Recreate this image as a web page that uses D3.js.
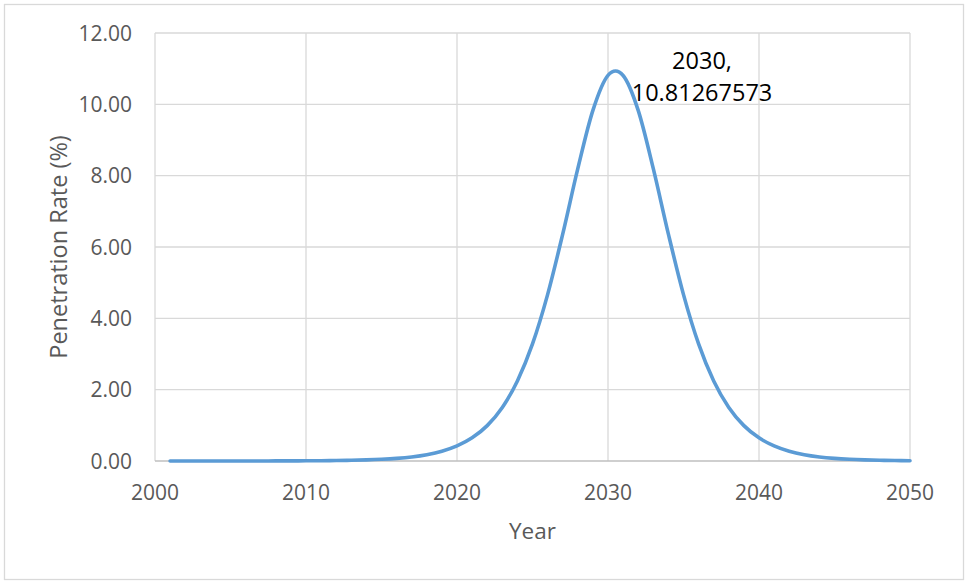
<!DOCTYPE html>
<html>
<head>
<meta charset="utf-8">
<script src="https://cdn.jsdelivr.net/npm/d3@7"></script>
<style>
  html, body { margin: 0; padding: 0; background: #fff; }
  svg { display: block; }
  text { font-family: "Open Sans", "Noto Sans", sans-serif; }
</style>
</head>
<body>
<svg id="chart" width="970" height="584"></svg>
<script>
// ---- data ----
const years = [2001,2002,2003,2004,2005,2006,2007,2008,2009,2010,
               2011,2012,2013,2014,2015,2016,2017,2018,2019,2020,
               2021,2022,2023,2024,2025,2026,2027,2028,2029,2030,
               2031,2032,2033,2034,2035,2036,2037,2038,2039,2040,
               2041,2042,2043,2044,2045,2046,2047,2048,2049,2050];
const penetration = [0.0001,0.00016,0.00024,0.00038,0.00059,0.00091,0.00141,0.0022,0.00341,0.00529,
                     0.00822,0.01276,0.0198,0.0307,0.0477,0.0739,0.1146,0.1774,0.2742,0.4228,
                     0.649,0.992,1.501,2.242,3.282,4.665,6.361,8.196,9.83,10.81267573,
                     10.809,9.83,8.196,6.361,4.665,3.282,2.242,1.501,0.992,0.649,
                     0.4228,0.2742,0.1774,0.1146,0.0739,0.0477,0.0307,0.0198,0.01276,0.00822];
const xTicks = [2000, 2010, 2020, 2030, 2040, 2050];
const yTicks = [0, 2, 4, 6, 8, 10, 12];
const labelYear = 2030;
const labelLines = ["2030,", "10.81267573"];
const xTitle = "Year";
const yTitle = "Penetration Rate (%)";

// ---- layout ----
const svg = d3.select("#chart");
const plot = { left: 155, right: 910, top: 33, bottom: 461 };
const x = d3.scaleLinear().domain([2000, 2050]).range([plot.left, plot.right]);
const y = d3.scaleLinear().domain([0, 12]).range([plot.bottom, plot.top]);

// outer border
svg.append("rect")
  .attr("x", 4.5).attr("y", 4.5).attr("width", 959).attr("height", 575)
  .attr("fill", "#fff").attr("stroke", "#D9D9D9").attr("stroke-width", 1.3);

// gridlines
const grid = svg.append("g");
grid.selectAll("line.h").data(yTicks.filter(d => d !== 0)).enter().append("line")
  .attr("x1", plot.left).attr("x2", plot.right)
  .attr("y1", d => y(d)).attr("y2", d => y(d))
  .attr("stroke", "#D9D9D9").attr("stroke-width", 1.3);
grid.selectAll("line.v").data(xTicks).enter().append("line")
  .attr("x1", d => x(d)).attr("x2", d => x(d))
  .attr("y1", plot.top).attr("y2", plot.bottom)
  .attr("stroke", "#D9D9D9").attr("stroke-width", 1.3);

// x axis line
svg.append("line")
  .attr("x1", plot.left).attr("x2", plot.right)
  .attr("y1", y(0)).attr("y2", y(0))
  .attr("stroke", "#BFBFBF").attr("stroke-width", 1.3);

// tick labels
svg.selectAll("text.xt").data(xTicks).enter().append("text")
  .attr("x", d => x(d)).attr("y", 499.5)
  .attr("text-anchor", "middle")
  .attr("font-size", 21).attr("fill", "#595959")
  .text(d => d);
svg.selectAll("text.yt").data(yTicks).enter().append("text")
  .attr("x", 132).attr("y", d => y(d)).attr("dy", "0.36em")
  .attr("text-anchor", "end")
  .attr("font-size", 21).attr("fill", "#595959")
  .text(d => d3.format(".2f")(d));

// axis titles
svg.append("text")
  .attr("x", (plot.left + plot.right) / 2).attr("y", 538.5)
  .attr("text-anchor", "middle")
  .attr("font-size", 22.5).attr("fill", "#595959")
  .text(xTitle);
svg.append("text")
  .attr("transform", `translate(66.5,${(plot.top + plot.bottom) / 2}) rotate(-90)`)
  .attr("text-anchor", "middle")
  .attr("font-size", 23.5).attr("fill", "#595959")
  .text(yTitle);

// line
const data = years.map((yr, i) => ({ yr, v: penetration[i] }));
const line = d3.line()
  .x(d => x(d.yr)).y(d => y(d.v))
  .curve(d3.curveCardinal.tension(0));
svg.append("path")
  .datum(data)
  .attr("d", line)
  .attr("fill", "none")
  .attr("stroke", "#5B9BD5")
  .attr("stroke-width", 3.6)
  .attr("stroke-linecap", "round")
  .attr("stroke-linejoin", "round");

// data label
const lblX = x(labelYear) + 94;
const lbl = svg.append("text")
  .attr("text-anchor", "middle")
  .attr("font-size", 23.5).attr("fill", "#000");
labelLines.forEach((t, i) => {
  lbl.append("tspan").attr("x", lblX).attr("y", 69 + i * 31.7).text(t);
});
</script>
</body>
</html>
